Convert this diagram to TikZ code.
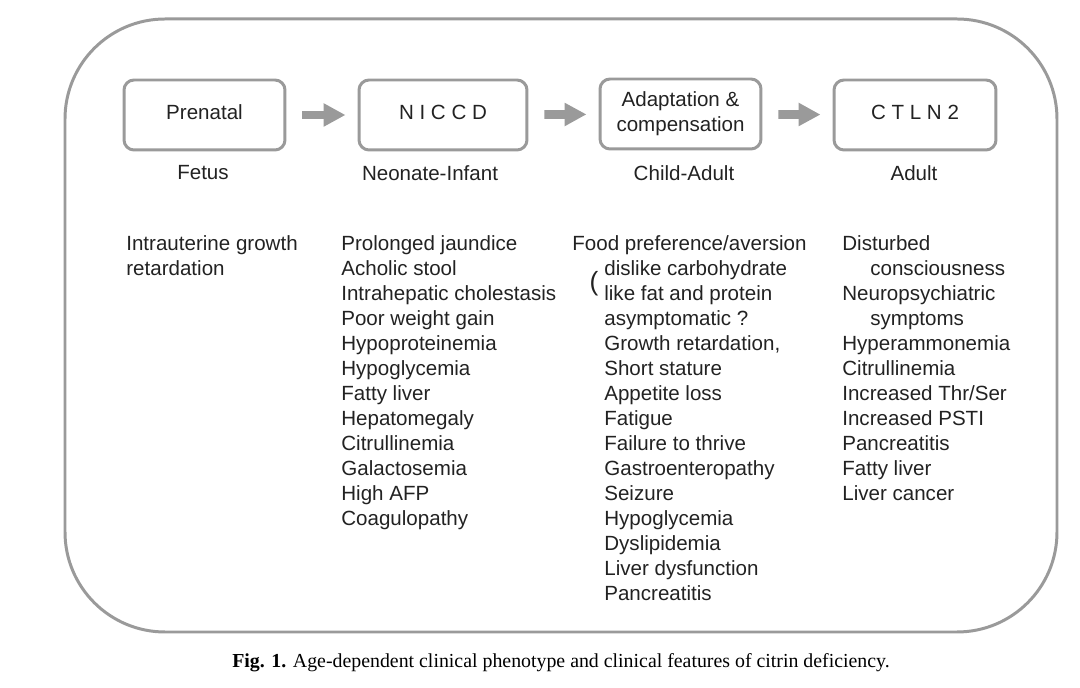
\documentclass[tikz,border=0pt]{standalone}
\usepackage{fontspec}
\setmainfont{Liberation Sans}
\newfontfamily\captionfont{Liberation Serif}
\usepackage{xcolor}
\definecolor{citGray}{HTML}{9A9A9A}
\definecolor{citText}{HTML}{222222}
\usetikzlibrary{arrows.meta}

\begin{document}
\begin{tikzpicture}[x=0.02cm, y=-0.02cm,
    stageBox/.style={draw=citGray, line width=1.7pt, rounded corners=0.2cm,
      minimum height=1.4cm, inner sep=0pt, align=center, text=citText,
      font=\fontsize{11.7}{14.2}\selectfont},
    oneLine/.style={text height=8.6pt, text depth=3.4pt},
    stageArrow/.style={draw=citGray, line width=5pt,
      -{Triangle[length=12.5pt 0 0, width=12.5pt 0 0]},
      shorten <=0.32cm, shorten >=0.24cm},
    ageLabel/.style={text=citText, font=\fontsize{11.7}{14.2}\selectfont},
    featureText/.style={anchor=base west, inner sep=0pt, text=citText,
      font=\fontsize{11.7}{14.2}\selectfont}]
  \useasboundingbox (0,0) rectangle (1080,688);
  % outer frame
  \draw[citGray, line width=1.7pt, rounded corners=2cm] (65,19) rectangle (1057,632);

  % stages
  \node[stageBox, oneLine, minimum width=3.22cm] (prenatal) at (204.5,115) {Prenatal};
  \node[stageBox, oneLine, minimum width=3.36cm] (niccd) at (443,115) {N I C C D};
  \node[stageBox, minimum width=3.22cm] (adapt) at (680.5,114) {Adaptation \&\\compensation};
  \node[stageBox, oneLine, minimum width=3.24cm] (ctln) at (915,115) {C T L N 2};

  \draw[stageArrow] (prenatal) -- (niccd);
  \draw[stageArrow] (niccd) -- (adapt);
  \draw[stageArrow] (adapt) -- (ctln);

  % ages
  \node[ageLabel] (fetus) at (203,173) {Fetus};
  \node[ageLabel] (neonate) at (430,173) {Neonate-Infant};
  \node[ageLabel] (child) at (684,173) {Child-Adult};
  \node[ageLabel] (adult) at (914,173) {Adult};

  % clinical features
  \foreach \txt [count=\i from 0] in {Intrauterine growth, retardation}
    \node[featureText, name=fet-\i] at (126,251+25*\i) {\txt};
  \foreach \txt [count=\i from 0] in {Prolonged jaundice, Acholic stool,
      Intrahepatic cholestasis, Poor weight gain, Hypoproteinemia, Hypoglycemia,
      Fatty liver, Hepatomegaly, Citrullinemia, Galactosemia, High AFP, Coagulopathy}
    \node[featureText, name=neo-\i] at (341,251+25*\i) {\txt};
  \foreach \dx/\txt [count=\i from 0] in {0/{Food preference/aversion},
      32/dislike carbohydrate, 32/like fat and protein, 32/asymptomatic ?,
      32/{Growth retardation,}, 32/Short stature, 32/Appetite loss, 32/Fatigue,
      32/Failure to thrive, 32/Gastroenteropathy, 32/Seizure, 32/Hypoglycemia,
      32/Dyslipidemia, 32/Liver dysfunction, 32/Pancreatitis}
    \node[featureText, name=chi-\i] at (572+\dx,251+25*\i) {\txt};
  \node[text=citText, inner sep=0pt, font=\fontsize{15}{15}\selectfont] (paren) at (594,284) {(};
  \foreach \dx/\txt [count=\i from 0] in {0/Disturbed, 28/consciousness,
      0/Neuropsychiatric, 28/symptoms, 0/Hyperammonemia, 0/Citrullinemia,
      0/{Increased Thr/Ser}, 0/Increased PSTI, 0/Pancreatitis, 0/Fatty liver,
      0/Liver cancer}
    \node[featureText, name=adu-\i] at (842+\dx,251+25*\i) {\txt};

  % caption
  \node[text=black, font=\captionfont\fontsize{11.3}{13}\selectfont] (caption) at (561,663)
    {\textbf{Fig. 1.} Age-dependent clinical phenotype and clinical features of citrin deficiency.};
\end{tikzpicture}
\end{document}
